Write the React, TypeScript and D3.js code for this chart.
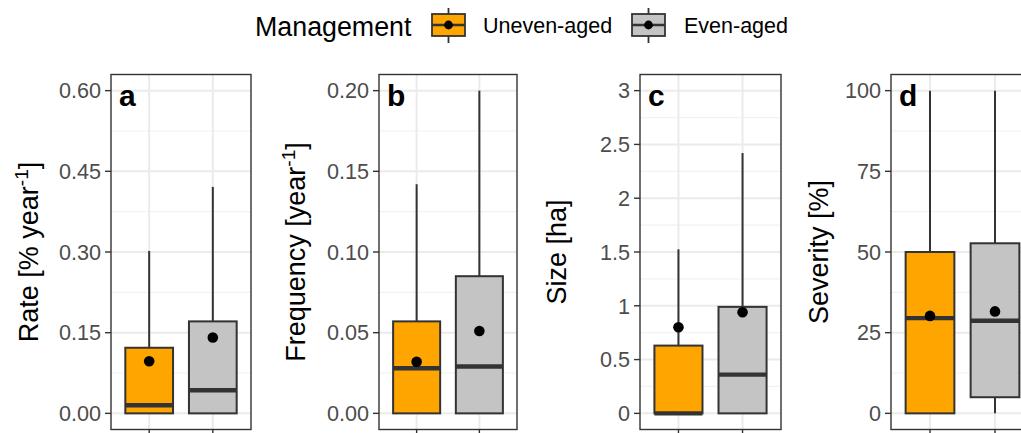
import React from "react";
import * as d3 from "d3";

// ---------- data ----------
const categories = ["Uneven-aged", "Even-aged"];
const fillColors = ["#FFA500", "#C4C4C4"];
const panelTags = ["a", "b", "c", "d"];
const yTitles = ["Rate [% year", "Frequency [year", "Size [ha]", "Severity [%]"];
const yTitleSup = ["-1", "-1", "", ""];
const yTitleTail = ["]", "]", "", ""];

const yMax = [0.6, 0.2, 3, 100];
const yTicks = [
  [0, 0.15, 0.3, 0.45, 0.6],
  [0, 0.05, 0.1, 0.15, 0.2],
  [0, 0.5, 1, 1.5, 2, 2.5, 3],
  [0, 25, 50, 75, 100],
];
const yTickLabels = [
  ["0.00", "0.15", "0.30", "0.45", "0.60"],
  ["0.00", "0.05", "0.10", "0.15", "0.20"],
  ["0", "0.5", "1", "1.5", "2", "2.5", "3"],
  ["0", "25", "50", "75", "100"],
];

// per panel: [Uneven-aged, Even-aged]
const whiskerLow = [[0, 0], [0, 0], [0, 0], [0, 0]];
const boxLow = [[0, 0], [0, 0], [0, 0], [0, 5.0]];
const medians = [[0.015, 0.043], [0.028, 0.029], [0.0, 0.36], [29.5, 28.7]];
const boxHigh = [[0.122, 0.171], [0.057, 0.085], [0.63, 0.99], [50, 52.7]];
const whiskerHigh = [[0.302, 0.421], [0.142, 0.2], [1.525, 2.42], [100, 100]];
const means = [[0.097, 0.141], [0.032, 0.051], [0.8, 0.94], [30.2, 31.6]];

// ---------- layout ----------
const W = 1021;
const H = 433;
const panelLeft = [111, 379, 640, 891];
const panelRight = [251, 517, 781, 1034];
const panelTop = 74.5;
const panelBottom = 429.5;
const titleX = [38, 305, 566, 828];
const FONT = "'Liberation Sans', Arial, Helvetica, sans-serif";
const DARK = "#333333";

function Panel({ i }: { i: number }) {
  // ggplot discrete scale: categories at 1,2 within expanded limits [0.4, 2.6]
  const xl = d3.scaleLinear().domain([0.4, 2.6]).range([panelLeft[i], panelRight[i]]);
  const cx = (k: number) => xl(k + 1);
  const bw = xl(0.75) - xl(0);

  const ext = yMax[i] * 0.05;
  const y = d3.scaleLinear().domain([-ext, yMax[i] + ext]).range([panelBottom, panelTop]);
  const ticks = yTicks[i];
  const minor = ticks.slice(0, -1).map((t, k) => (t + ticks[k + 1]) / 2);

  const pl = panelLeft[i];
  const pr = panelRight[i];
  const midY = (panelTop + panelBottom) / 2;

  return (
    <g>
      <rect x={pl} y={panelTop} width={pr - pl} height={panelBottom - panelTop} fill="#FFFFFF" />
      {minor.map((t, k) => (
        <line key={"mn" + k} x1={pl} x2={pr} y1={y(t)} y2={y(t)} stroke="#F2F2F2" strokeWidth={1.2} />
      ))}
      {ticks.map((t, k) => (
        <line key={"mj" + k} x1={pl} x2={pr} y1={y(t)} y2={y(t)} stroke="#EBEBEB" strokeWidth={2} />
      ))}
      {categories.map((c, k) => (
        <line key={"vx" + k} x1={cx(k)} x2={cx(k)} y1={panelTop} y2={panelBottom} stroke="#EBEBEB" strokeWidth={2} />
      ))}
      {categories.map((c, k) => {
        const xc = cx(k);
        return (
          <g key={"bx" + k}>
            <line x1={xc} x2={xc} y1={y(boxHigh[i][k])} y2={y(whiskerHigh[i][k])} stroke={DARK} strokeWidth={2} />
            <line x1={xc} x2={xc} y1={y(boxLow[i][k])} y2={y(whiskerLow[i][k])} stroke={DARK} strokeWidth={2} />
            <rect
              x={xc - bw / 2}
              y={y(boxHigh[i][k])}
              width={bw}
              height={y(boxLow[i][k]) - y(boxHigh[i][k])}
              fill={fillColors[k]}
              stroke={DARK}
              strokeWidth={2}
            />
            <line x1={xc - bw / 2} x2={xc + bw / 2} y1={y(medians[i][k])} y2={y(medians[i][k])} stroke={DARK} strokeWidth={4.4} />
            <circle cx={xc} cy={y(means[i][k])} r={5.3} fill="#000000" />
          </g>
        );
      })}
      <rect x={pl} y={panelTop} width={pr - pl} height={panelBottom - panelTop} fill="none" stroke={DARK} strokeWidth={1.4} />
      {ticks.map((t, k) => (
        <g key={"tk" + k}>
          <line x1={pl - 6} x2={pl} y1={y(t)} y2={y(t)} stroke={DARK} strokeWidth={1.4} />
          <text x={pl - 10} y={y(t)} dy="0.36em" textAnchor="end" fontSize={21.6} fill="#4D4D4D" fontFamily={FONT}>
            {yTickLabels[i][k]}
          </text>
        </g>
      ))}
      {categories.map((c, k) => (
        <line key={"xt" + k} x1={cx(k)} x2={cx(k)} y1={panelBottom} y2={panelBottom + 6} stroke={DARK} strokeWidth={1.4} />
      ))}
      <text x={pl + 8} y={panelTop + 31} fontSize={30} fontWeight="bold" fill="#000000" fontFamily={FONT}>
        {panelTags[i]}
      </text>
      <text
        transform={`translate(${titleX[i]},${midY}) rotate(-90)`}
        textAnchor="middle"
        fontSize={27}
        fill="#000000"
        fontFamily={FONT}
      >
        {yTitles[i]}
        {yTitleSup[i] ? (
          <tspan dy={-10} fontSize={19}>
            {yTitleSup[i]}
          </tspan>
        ) : null}
        {yTitleTail[i] ? <tspan dy={10}>{yTitleTail[i]}</tspan> : null}
      </text>
    </g>
  );
}

function LegendKey({ x, fill }: { x: number; fill: string }) {
  const w = 33;
  const cxk = x + w / 2;
  return (
    <g>
      <line x1={cxk} x2={cxk} y1={8} y2={43} stroke={DARK} strokeWidth={1.8} />
      <rect x={x} y={14} width={w} height={22} fill={fill} stroke={DARK} strokeWidth={1.8} />
      <line x1={x} x2={x + w} y1={25} y2={25} stroke={DARK} strokeWidth={2.6} />
      <circle cx={cxk} cy={25} r={4.4} fill="#000000" />
    </g>
  );
}

export default function App() {
  return (
    <svg width={W} height={H} style={{ position: "absolute", left: 0, top: 0, background: "#FFFFFF" }}>
      <rect x={0} y={0} width={W} height={H} fill="#FFFFFF" />
      <text x={255} y={36} fontSize={26.8} fill="#000000" fontFamily={FONT}>
        Management
      </text>
      <LegendKey x={432} fill={fillColors[0]} />
      <text x={483} y={33} fontSize={21.5} fill="#000000" fontFamily={FONT}>
        {categories[0]}
      </text>
      <LegendKey x={632} fill={fillColors[1]} />
      <text x={684} y={33} fontSize={21.5} fill="#000000" fontFamily={FONT}>
        {categories[1]}
      </text>
      {panelTags.map((t, i) => (
        <Panel key={t} i={i} />
      ))}
    </svg>
  );
}
